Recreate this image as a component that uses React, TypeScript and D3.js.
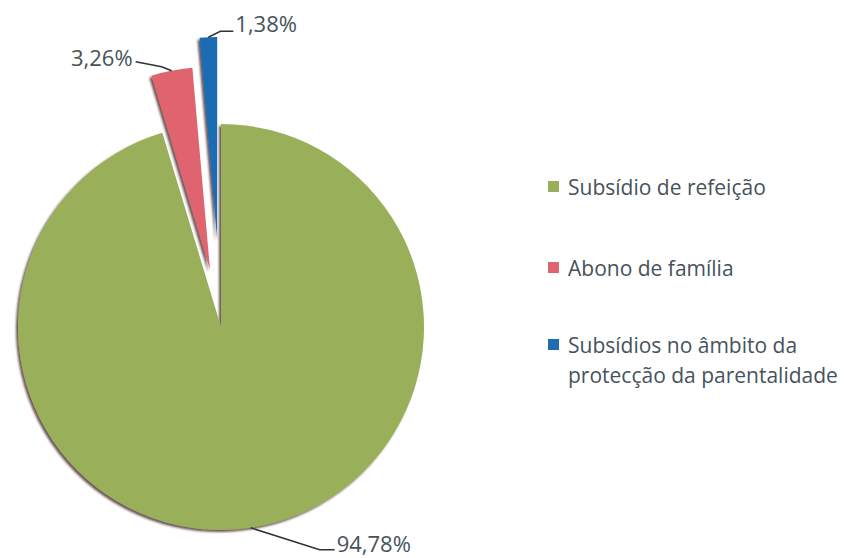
import React from "react";
import * as d3 from "d3";

const categories = [
  "Subsídio de refeição",
  "Abono de família",
  "Subsídios no âmbito da protecção da parentalidade",
];
const values = [94.78, 3.26, 1.38];
const valueLabels = ["94,78%", "3,26%", "1,38%"];
const legendLines = [
  ["Subsídio de refeição"],
  ["Abono de família"],
  ["Subsídios no âmbito da", "protecção da parentalidade"],
];
const colors = ["#9aaf5a", "#e0646f", "#1f6cb4"];
const explode = [0, 58, 87];

const W = 857;
const H = 558;
const cx = 221;
const cy = 327;
const R = 203;
const textColor = "#46535b";
const font = "'Open Sans', Lato, sans-serif";

export default function App() {
  const pie = d3.pie<number>().sort(null).value((d) => d);
  const arcs = pie(values);
  const arc = d3.arc<d3.PieArcDatum<number>>().innerRadius(0).outerRadius(R);

  const offs = arcs.map((a, i) => {
    const m = (a.startAngle + a.endAngle) / 2;
    return [Math.sin(m) * explode[i], -Math.cos(m) * explode[i]];
  });

  const pt = (i: number, frac: number) => {
    const a = arcs[i];
    const ang = a.startAngle + (a.endAngle - a.startAngle) * frac;
    const [ox, oy] = offs[i];
    return [cx + ox + Math.sin(ang) * R, cy + oy - Math.cos(ang) * R];
  };

  const g0 = pt(0, 0.5);
  const p0 = pt(1, 0.5);
  const b0 = pt(2, 0.5);

  const leaders = [
    {
      path: `M${g0[0]},${g0[1]} L${g0[0] + 69},${g0[1] + 22} L${g0[0] + 84},${g0[1] + 22}`,
      tx: g0[0] + 86,
      ty: g0[1] + 24,
      anchor: "start",
      label: valueLabels[0],
    },
    {
      path: `M${p0[0]},${p0[1]} L${p0[0] - 10},${p0[1] - 4} L${p0[0] - 36},${p0[1] - 9}`,
      tx: p0[0] - 39,
      ty: p0[1] - 5,
      anchor: "end",
      label: valueLabels[1],
    },
    {
      path: `M${b0[0]},${b0[1]} L${b0[0] + 12},${b0[1] - 6} L${b0[0] + 25},${b0[1] - 6}`,
      tx: b0[0] + 27,
      ty: b0[1] - 5,
      anchor: "start",
      label: valueLabels[2],
    },
  ];

  const legendY = [187, 268, 345];

  return (
    <svg width={W} height={H} style={{ position: "absolute", left: 0, top: 0 }}>
      <defs>
        <filter id="sh" x="-20%" y="-20%" width="140%" height="140%">
          <feDropShadow dx="-2" dy="2" stdDeviation="0.8" floodColor="#3b1f1a" floodOpacity="0.75" />
        </filter>
      </defs>
      <rect width={W} height={H} fill="#ffffff" />
      {arcs.map((a, i) => (
        <path
          key={categories[i]}
          d={arc(a) || ""}
          transform={`translate(${cx + offs[i][0]},${cy + offs[i][1]})`}
          fill={colors[i]}
          filter="url(#sh)"
        />
      ))}
      {leaders.map((l, i) => (
        <g key={i}>
          <path d={l.path} fill="none" stroke="#2e3538" strokeWidth={1.6} />
          <text
            x={l.tx}
            y={l.ty}
            textAnchor={l.anchor as any}
            fontFamily={font}
            fontSize={22}
            fill={textColor}
          >
            {l.label}
          </text>
        </g>
      ))}
      {legendLines.map((lines, i) => (
        <g key={i}>
          <rect x={548} y={legendY[i] - 6} width={11} height={11} fill={colors[i]} />
          {lines.map((t, j) => (
            <text
              key={j}
              x={568}
              y={legendY[i] + 8 + j * 30}
              fontFamily={font}
              fontSize={21}
              fill={textColor}
            >
              {t}
            </text>
          ))}
        </g>
      ))}
    </svg>
  );
}
